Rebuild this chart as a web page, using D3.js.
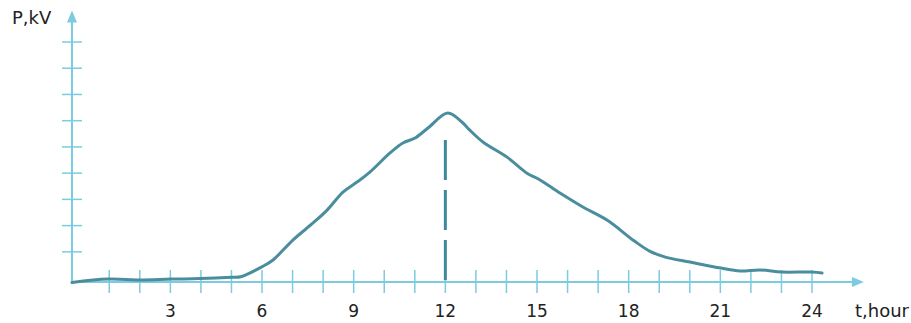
<!DOCTYPE html>
<html>
<head>
<meta charset="utf-8">
<script src="https://cdn.jsdelivr.net/npm/d3@7"></script>
<style>
  html, body { margin: 0; padding: 0; background: #ffffff; }
  svg { display: block; }
  text { font-family: "DejaVu Sans", Verdana, sans-serif; fill: #222222; }
</style>
</head>
<body>
<svg id="chart" width="911" height="323"></svg>
<script>
// Daily load curve: hour of day vs power
const hours = [-0.22, 0.96, 2.01, 3.02, 3.97, 5.02, 5.3, 6.0, 6.36, 7.01, 7.67, 8.13, 8.65, 9.11, 9.53,
  10.19, 10.61, 11.01, 11.43, 12.08, 12.54, 12.8, 13.23, 14.02, 14.67, 15.1, 15.75, 16.5, 17.29,
  18.2, 18.7, 19.2, 20.01, 21.02, 21.64, 22.3, 23.02, 24.0, 24.33];
const power = [-0.17, -0.04, -0.07, -0.04, -0.02, 0.03, 0.05, 0.43, 0.69, 1.45, 2.1, 2.59, 3.28, 3.66, 4.04,
  4.77, 5.15, 5.34, 5.72, 6.29, 5.95, 5.64, 5.19, 4.61, 4.0, 3.74, 3.24, 2.71, 2.21,
  1.4, 1.02, 0.8, 0.61, 0.38, 0.27, 0.31, 0.23, 0.23, 0.19];

const hourTicks = d3.range(1, 25);          // tick marks every hour
const hourLabels = [3, 6, 9, 12, 15, 18, 21, 24];
const powerTicks = d3.range(1, 10);         // unlabeled gridmarks on P axis
const peakHour = 12;
const peakMarkTop = 5.26;                   // top of the dashed peak marker

const xOrigin = -0.22, xEnd = 25.7;         // axis extent in hours
const yOrigin = -0.15, yEnd = 10.2;         // axis extent in power units

const svg = d3.select("#chart");
const x = d3.scaleLinear().domain([0, 24]).range([78.7, 812]);
const y = d3.scaleLinear().domain([yOrigin, 9]).range([282, 42]);

const axisColor = "#7ccbe0";
const curveColor = "#4a8e9e";
const markColor = "#3d8a9a";

const X0 = x(xOrigin), Y0 = y(yOrigin);

// axes
const axes = svg.append("g");
axes.append("line")
  .attr("x1", X0).attr("y1", Y0).attr("x2", x(xEnd) - 8).attr("y2", Y0)
  .attr("stroke", axisColor).attr("stroke-width", 2);
axes.append("line")
  .attr("x1", X0).attr("y1", Y0).attr("x2", X0).attr("y2", y(yEnd) + 8)
  .attr("stroke", axisColor).attr("stroke-width", 2);

// arrowheads
const xt = x(xEnd), yt = y(yEnd);
axes.append("path")
  .attr("d", `M${xt},${Y0} L${xt - 12},${Y0 - 5} L${xt - 12},${Y0 + 5} Z`)
  .attr("fill", axisColor);
axes.append("path")
  .attr("d", `M${X0},${yt} L${X0 - 5},${yt + 12} L${X0 + 5},${yt + 12} Z`)
  .attr("fill", axisColor);

// tick marks
axes.selectAll("line.xt").data(hourTicks).join("line")
  .attr("class", "xt")
  .attr("x1", d => x(d)).attr("x2", d => x(d))
  .attr("y1", Y0 - 12).attr("y2", Y0 + 11)
  .attr("stroke", axisColor).attr("stroke-width", 1.5);
axes.selectAll("line.yt").data(powerTicks).join("line")
  .attr("class", "yt")
  .attr("x1", X0 - 10).attr("x2", X0 + 10)
  .attr("y1", d => y(d)).attr("y2", d => y(d))
  .attr("stroke", axisColor).attr("stroke-width", 1.5);

// tick labels
svg.append("g").selectAll("text").data(hourLabels).join("text")
  .attr("x", d => x(d)).attr("y", 317)
  .attr("text-anchor", "middle")
  .attr("font-size", 17)
  .text(d => d);

// axis titles
svg.append("text").attr("x", 12).attr("y", 24).attr("font-size", 18).text("P,kV");
svg.append("text").attr("x", 909).attr("y", 317).attr("text-anchor", "end")
  .attr("font-size", 18).text("t,hour");

// dashed marker at the peak hour
svg.append("line")
  .attr("x1", x(peakHour)).attr("x2", x(peakHour))
  .attr("y1", y(peakMarkTop)).attr("y2", Y0)
  .attr("stroke", markColor).attr("stroke-width", 3)
  .attr("stroke-dasharray", "40,10");

// load curve
const pts = hours.map((h, i) => [h, power[i]]);
const line = d3.line()
  .x(d => x(d[0])).y(d => y(d[1]))
  .curve(d3.curveCatmullRom.alpha(0.5));
svg.append("path")
  .attr("d", line(pts))
  .attr("fill", "none")
  .attr("stroke", curveColor)
  .attr("stroke-width", 3)
  .attr("stroke-linejoin", "round")
  .attr("stroke-linecap", "round");
</script>
</body>
</html>
